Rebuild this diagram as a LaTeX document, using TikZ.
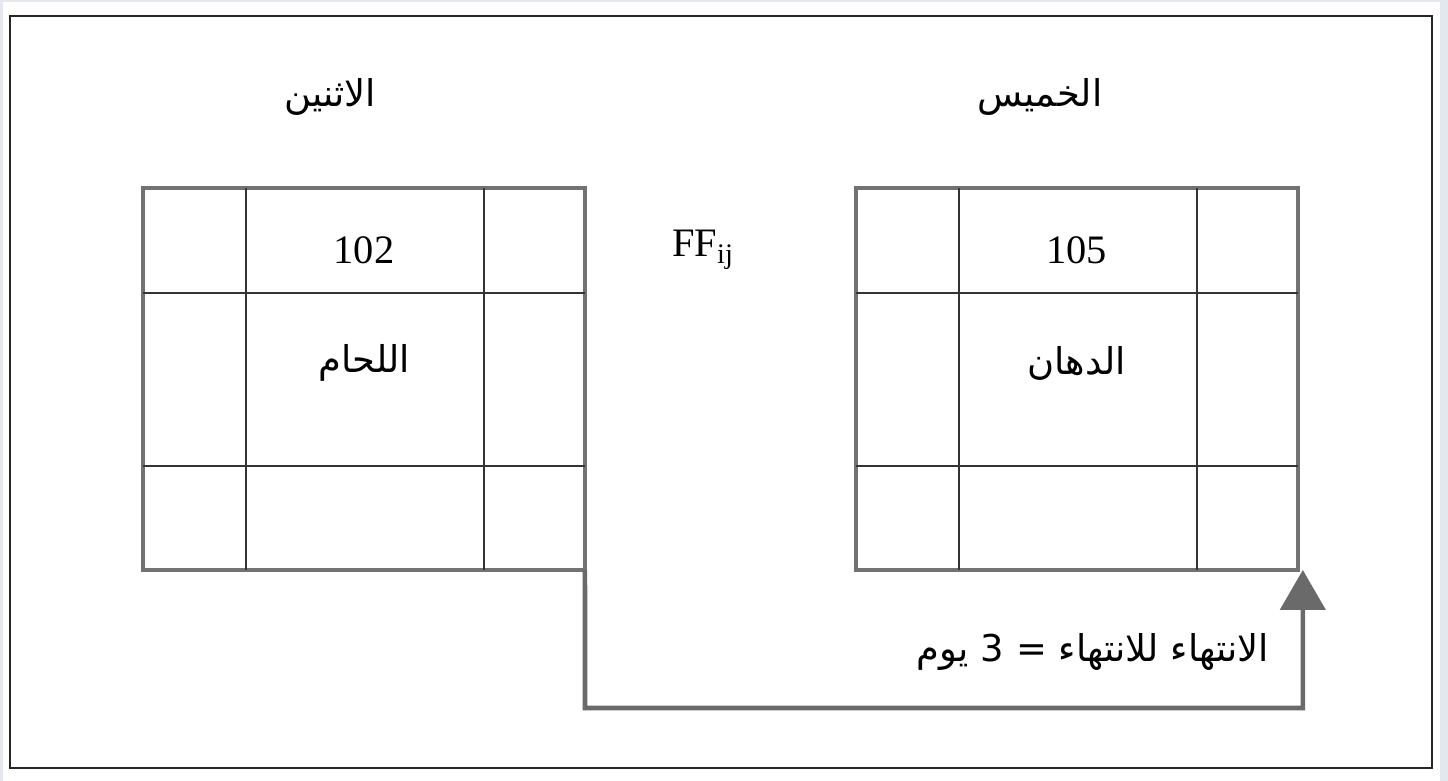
\documentclass[tikz,border=0pt]{standalone}
\usepackage{fontspec}
\setmainfont{Liberation Serif}
\newfontfamily\arabicfont[Script=Arabic]{DejaVu Sans}
\TeXXeTstate=1
\usetikzlibrary{positioning,arrows.meta}
\definecolor{fundo}{HTML}{E3E7EE}
\definecolor{borda}{HTML}{727272}
\definecolor{seta}{HTML}{6A6A6A}

\begin{document}
\begin{tikzpicture}[x=0.02cm,y=-0.02cm,
    quadro/.style={draw=borda, line width=2.3pt, minimum width=8.84cm, minimum height=7.64cm, inner sep=0pt, outer sep=0pt},
    grade/.style={draw=black!80, line width=1pt},
    conector/.style={draw=seta, line width=2.6pt, -{Triangle[length=0.8cm,width=0.9cm]}},
    rotulo/.style={font=\fontsize{23}{27}\selectfont},
    arabe/.style={font=\arabicfont\fontsize{21}{25}\selectfont}]
        % Fundo
        \useasboundingbox (0,0) rectangle (1448,781);
        \fill[fundo] (0,0) rectangle (1448,781);
        \fill[white] (3,2) rectangle (1440,781);
        \draw[black!85, line width=0.8pt] (10,16) rectangle (1432,768);

        % Atividades
        \node[quadro] (lahm) at (364,379) {};
        \node[quadro, right=5.42cm of lahm] (dahan) {};

        % Grade
        \foreach \b in {lahm,dahan} {
          \draw[grade] ([xshift=2.06cm]\b.north west) -- ([xshift=2.06cm]\b.south west);
          \draw[grade] ([xshift=-2.02cm]\b.north east) -- ([xshift=-2.02cm]\b.south east);
          \draw[grade] ([yshift=-2.1cm]\b.north west) -- ([yshift=-2.1cm]\b.north east);
          \draw[grade] ([yshift=2.08cm]\b.south west) -- ([yshift=2.08cm]\b.south east);
        }

        % Textos
        \node[rotulo] (n102) at ([yshift=-1.24cm]lahm.north) {102};
        \node[rotulo] (n105) at ([yshift=-1.24cm]dahan.north) {105};
        \node[arabe] (nlahm) at ([yshift=-3.5cm]lahm.north) {\beginR اللحام\endR};
        \node[arabe] (ndahan) at ([yshift=-3.5cm]dahan.north) {\beginR الدهان\endR};
        \node[arabe] (seg) at (330,97) {\beginR الاثنين\endR};
        \node[arabe] (qui) at (1040,97) {\beginR الخميس\endR};
        \node[rotulo] (ff) at (703,250) {FF\textsubscript{ij}};

        % Ligacao
        \coordinate (canto) at (585,708);
        \draw[conector] (lahm.south east) -- (canto) -| ([xshift=0.1cm]dahan.south east);
        \node[arabe] (prazo) at (1093,652) {\beginR الانتهاء للانتهاء = \beginL 3\endL{} يوم\endR};
\end{tikzpicture}
\end{document}
